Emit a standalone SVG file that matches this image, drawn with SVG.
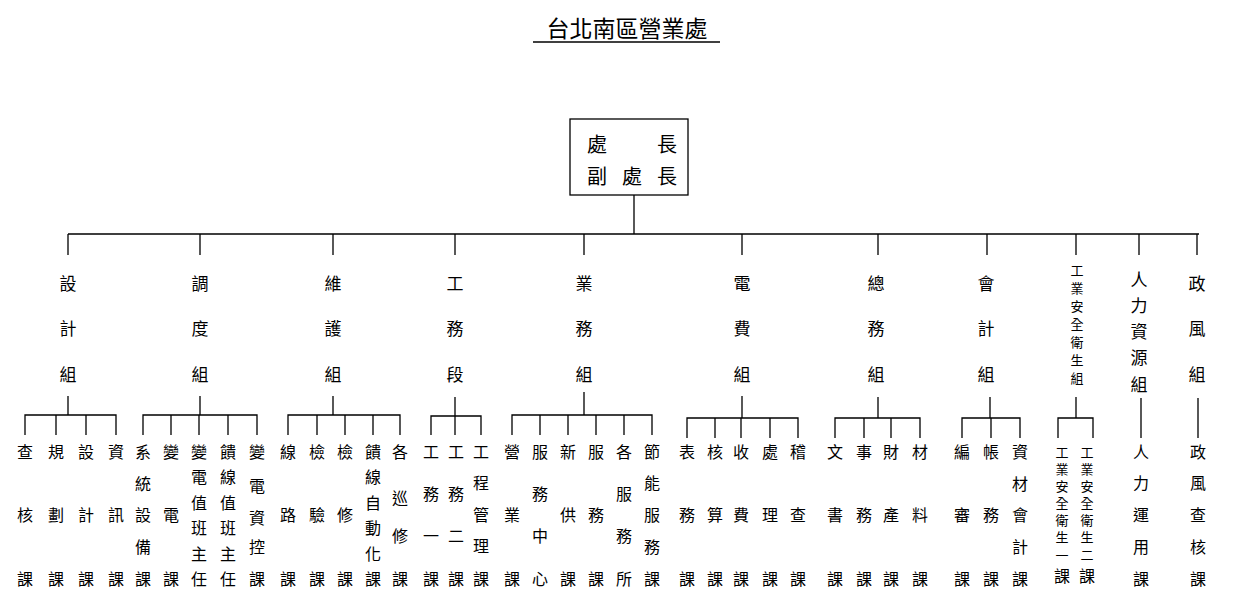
<svg xmlns="http://www.w3.org/2000/svg" width="1237" height="608" viewBox="0 0 1237 608">
<style>
text{font-family:"Noto Sans CJK TC","Noto Sans CJK SC",sans-serif;fill:#000;text-anchor:middle;dominant-baseline:central}
.t{font-size:23px}
.b{font-size:20px}
.g{font-size:17px}
.s{font-size:13px}
.l{font-size:16px}
.c line,.c path{stroke:#000;stroke-width:1.3;fill:none}
</style>
<rect width="1237" height="608" fill="#fff"/>
<g id="title"><text class="t" x="627" y="27">台北南區營業處</text><line x1="533" y1="42" x2="720" y2="42" stroke="#000" stroke-width="1.5"/></g>
<g id="head"><rect x="570" y="119" width="118" height="76" fill="#fff" stroke="#000" stroke-width="1.3"/>
<text class="b" x="597" y="143">處</text><text class="b" x="667" y="143">長</text>
<text class="b" x="597" y="175">副</text><text class="b" x="632" y="175">處</text><text class="b" x="667" y="175">長</text></g>
<g class="c" id="connectors">
<path d="M634 195V234M68 234H1199M68 234V255M200 234V255M333 234V255M455 234V255M584 234V255M742 234V255M878 234V255M987 234V255M1076 234V255M1139 234V255M1197 234V255"/>
<path d="M68 396V415M25 435V415H116V435M56 415V435M86 415V435"/>
<path d="M200 396V415M143 435V415H257V435M171 415V435M199 415V435M228 415V435"/>
<path d="M333 396V415M288 435V415H400V435M317 415V435M345 415V435M373 415V435"/>
<path d="M455 397V416M431 435V416H481V435M455 416V435"/>
<path d="M584 392V415M512 435V415H652V435M540 415V435M568 415V435M596 415V435M624 415V435"/>
<path d="M742 396V418M687 438V418H798V438M715 418V438M741 418V438M770 418V438"/>
<path d="M878 397V418M835 438V418H920V438M864 418V438M891 418V438"/>
<path d="M990 397V418M962 438V418H1020V438M991 418V438"/>
<path d="M1076 397V418M1058 438V418H1093V438"/>
<path d="M1141 398V438M1198 398V438"/>
</g>
<g id="groups" class="g">
<g id="g1"><text x="68" y="282">設</text><text x="68" y="327">計</text><text x="68" y="373">組</text></g>
<g id="g2"><text x="200" y="282">調</text><text x="200" y="327">度</text><text x="200" y="373">組</text></g>
<g id="g3"><text x="333" y="282">維</text><text x="333" y="327">護</text><text x="333" y="373">組</text></g>
<g id="g4"><text x="455" y="282">工</text><text x="455" y="327">務</text><text x="455" y="373">段</text></g>
<g id="g5"><text x="584" y="282">業</text><text x="584" y="327">務</text><text x="584" y="373">組</text></g>
<g id="g6"><text x="742" y="282">電</text><text x="742" y="327">費</text><text x="742" y="373">組</text></g>
<g id="g7"><text x="876" y="282">總</text><text x="876" y="327">務</text><text x="876" y="373">組</text></g>
<g id="g8"><text x="986" y="282">會</text><text x="986" y="327">計</text><text x="986" y="373">組</text></g>
<g id="g9" class="s"><text x="1077" y="269">工</text><text x="1077" y="287">業</text><text x="1077" y="305">安</text><text x="1077" y="323">全</text><text x="1077" y="341">衛</text><text x="1077" y="359">生</text><text x="1077" y="377">組</text></g>
<g id="g10"><text x="1139" y="278">人</text><text x="1139" y="304">力</text><text x="1139" y="330">資</text><text x="1139" y="356">源</text><text x="1139" y="383">組</text></g>
<g id="g11"><text x="1197" y="282">政</text><text x="1197" y="327">風</text><text x="1197" y="373">組</text></g>
</g>
<g id="leaves" class="l">
<g id="l1"><text x="25" y="451">查</text><text x="25" y="514">核</text><text x="25" y="578">課</text></g>
<g id="l2"><text x="56" y="451">規</text><text x="56" y="514">劃</text><text x="56" y="578">課</text></g>
<g id="l3"><text x="86" y="451">設</text><text x="86" y="514">計</text><text x="86" y="578">課</text></g>
<g id="l4"><text x="116" y="451">資</text><text x="116" y="514">訊</text><text x="116" y="578">課</text></g>
<g id="l5"><text x="143" y="451">系</text><text x="143" y="483">統</text><text x="143" y="514">設</text><text x="143" y="546">備</text><text x="143" y="578">課</text></g>
<g id="l6"><text x="171" y="451">變</text><text x="171" y="514">電</text><text x="171" y="578">課</text></g>
<g id="l7"><text x="199" y="451">變</text><text x="199" y="476">電</text><text x="199" y="502">值</text><text x="199" y="527">班</text><text x="199" y="553">主</text><text x="199" y="578">任</text></g>
<g id="l8"><text x="228" y="451">饋</text><text x="228" y="476">線</text><text x="228" y="502">值</text><text x="228" y="527">班</text><text x="228" y="553">主</text><text x="228" y="578">任</text></g>
<g id="l9"><text x="257" y="451">變</text><text x="257" y="485">電</text><text x="257" y="517">資</text><text x="257" y="546">控</text><text x="257" y="578">課</text></g>
<g id="l10"><text x="288" y="451">線</text><text x="288" y="514">路</text><text x="288" y="578">課</text></g>
<g id="l11"><text x="317" y="451">檢</text><text x="317" y="514">驗</text><text x="317" y="578">課</text></g>
<g id="l12"><text x="345" y="451">檢</text><text x="345" y="514">修</text><text x="345" y="578">課</text></g>
<g id="l13"><text x="373" y="451">饋</text><text x="373" y="476">線</text><text x="373" y="502">自</text><text x="373" y="527">動</text><text x="373" y="553">化</text><text x="373" y="578">課</text></g>
<g id="l14"><text x="400" y="451">各</text><text x="400" y="497">巡</text><text x="400" y="535">修</text><text x="400" y="578">課</text></g>
<g id="l15"><text x="431" y="451">工</text><text x="431" y="493">務</text><text x="431" y="535">一</text><text x="431" y="578">課</text></g>
<g id="l16"><text x="456" y="451">工</text><text x="456" y="493">務</text><text x="456" y="535">二</text><text x="456" y="578">課</text></g>
<g id="l17"><text x="481" y="451">工</text><text x="481" y="482">程</text><text x="481" y="514">管</text><text x="481" y="545">理</text><text x="481" y="578">課</text></g>
<g id="l18"><text x="512" y="451">營</text><text x="512" y="514">業</text><text x="512" y="578">課</text></g>
<g id="l19"><text x="540" y="451">服</text><text x="540" y="493">務</text><text x="540" y="535">中</text><text x="540" y="578">心</text></g>
<g id="l20"><text x="568" y="451">新</text><text x="568" y="514">供</text><text x="568" y="578">課</text></g>
<g id="l21"><text x="596" y="451">服</text><text x="596" y="514">務</text><text x="596" y="578">課</text></g>
<g id="l22"><text x="624" y="451">各</text><text x="624" y="493">服</text><text x="624" y="535">務</text><text x="624" y="578">所</text></g>
<g id="l23"><text x="652" y="451">節</text><text x="652" y="482">能</text><text x="652" y="514">服</text><text x="652" y="546">務</text><text x="652" y="578">課</text></g>
<g id="l24"><text x="687" y="451">表</text><text x="687" y="514">務</text><text x="687" y="578">課</text></g>
<g id="l25"><text x="715" y="451">核</text><text x="715" y="514">算</text><text x="715" y="578">課</text></g>
<g id="l26"><text x="741" y="451">收</text><text x="741" y="514">費</text><text x="741" y="578">課</text></g>
<g id="l27"><text x="770" y="451">處</text><text x="770" y="514">理</text><text x="770" y="578">課</text></g>
<g id="l28"><text x="798" y="451">稽</text><text x="798" y="514">查</text><text x="798" y="578">課</text></g>
<g id="l29"><text x="835" y="451">文</text><text x="835" y="514">書</text><text x="835" y="578">課</text></g>
<g id="l30"><text x="864" y="451">事</text><text x="864" y="514">務</text><text x="864" y="578">課</text></g>
<g id="l31"><text x="891" y="451">財</text><text x="891" y="514">產</text><text x="891" y="578">課</text></g>
<g id="l32"><text x="920" y="451">材</text><text x="920" y="514">料</text><text x="920" y="578">課</text></g>
<g id="l33"><text x="962" y="451">編</text><text x="962" y="514">審</text><text x="962" y="578">課</text></g>
<g id="l34"><text x="991" y="451">帳</text><text x="991" y="514">務</text><text x="991" y="578">課</text></g>
<g id="l35"><text x="1020" y="451">資</text><text x="1020" y="483">材</text><text x="1020" y="514">會</text><text x="1020" y="546">計</text><text x="1020" y="578">課</text></g>
<g id="l36" class="s"><text x="1062" y="451">工</text><text x="1062" y="468">業</text><text x="1062" y="485">安</text><text x="1062" y="502">全</text><text x="1062" y="519">衛</text><text x="1062" y="536">生</text><text x="1062" y="554">一</text><text x="1062" y="575" font-size="16">課</text></g>
<g id="l37" class="s"><text x="1087" y="451">工</text><text x="1087" y="468">業</text><text x="1087" y="485">安</text><text x="1087" y="502">全</text><text x="1087" y="519">衛</text><text x="1087" y="536">生</text><text x="1087" y="554">二</text><text x="1087" y="575" font-size="16">課</text></g>
<g id="l38"><text x="1141" y="451">人</text><text x="1141" y="482">力</text><text x="1141" y="514">運</text><text x="1141" y="546">用</text><text x="1141" y="578">課</text></g>
<g id="l39"><text x="1198" y="451">政</text><text x="1198" y="482">風</text><text x="1198" y="514">查</text><text x="1198" y="546">核</text><text x="1198" y="578">課</text></g>
</g>
</svg>
